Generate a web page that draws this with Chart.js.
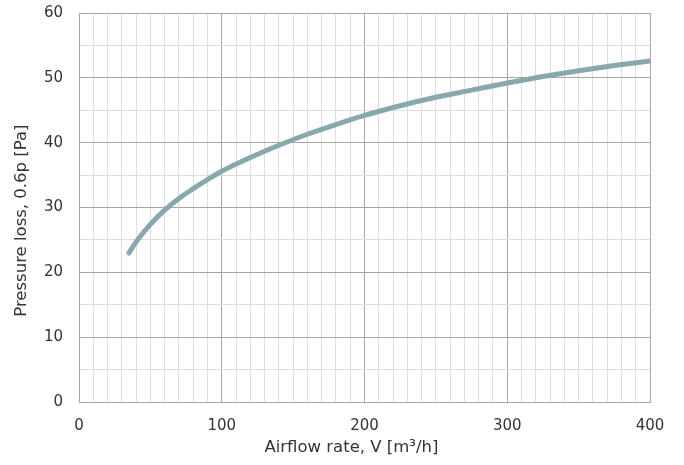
<!DOCTYPE html>
<html>
<head>
<meta charset="utf-8">
<script src="https://cdn.jsdelivr.net/npm/chart.js@4/dist/chart.umd.min.js"></script>
<style>
  html, body { margin: 0; padding: 0; background: #fff; }
  #wrap { width: 684px; height: 465px; }
</style>
</head>
<body>
<div id="wrap"><canvas id="chart" width="684" height="465"></canvas></div>
<script>
// Airflow rate V [m3/h] vs pressure loss [Pa]
const airflow = [35, 40, 50, 60, 70, 80, 90, 100, 120, 140, 160, 180, 200, 225, 250, 275, 300, 325, 350, 375, 400];
const pressure = [23.0, 24.7, 27.4, 29.6, 31.4, 32.9, 34.3, 35.6, 37.7, 39.6, 41.3, 42.8, 44.2, 45.7, 47.0, 48.1, 49.2, 50.2, 51.1, 51.9, 52.6];

const xTitle = 'Airflow rate, V [m³/h]';
const yTitle = 'Pressure loss, 0.6p [Pa]';
const xMajor = 100, yMajor = 10;

Chart.defaults.font.family = "'DejaVu Sans', Verdana, sans-serif";
Chart.defaults.font.size = 15;
Chart.defaults.color = '#333';

const points = airflow.map((v, i) => ({ x: v, y: pressure[i] }));

const gridColor = major => ctx => (ctx.tick && ctx.tick.value % major === 0) ? '#a6a6a6' : '#dedede';

// titles in the original sit a little towards the origin, trailing spaces nudge them
const nudge = '     ';

new Chart(document.getElementById('chart'), {
    type: 'scatter',
    data: {
        datasets: [{
            data: points,
            showLine: true,
            borderColor: '#87a8ac',
            borderWidth: 5,
            borderCapStyle: 'round',
            pointRadius: 0,
            cubicInterpolationMode: 'monotone',
            fill: false
        }]
    },
    options: {
        responsive: false,
        animation: false,
        devicePixelRatio: 1,
        layout: { padding: { top: 13, right: 34, left: 0, bottom: 0 } },
        plugins: { legend: { display: false }, tooltip: { enabled: false } },
        scales: {
            x: {
                type: 'linear',
                min: 0, max: 400,
                ticks: {
                    stepSize: 10,
                    padding: 15,
                    maxRotation: 0,
                    autoSkip: false,
                    callback: v => v % xMajor === 0 ? v : ''
                },
                grid: { color: gridColor(xMajor), drawTicks: false, lineWidth: 1 },
                border: { color: '#a6a6a6' },
                title: { display: true, text: xTitle + nudge, font: { size: 16.5 }, padding: { top: 2, bottom: 7 } },
                afterFit: s => { s.height = 63; s.paddingLeft = 0; s.paddingRight = 0; }
            },
            y: {
                min: 0, max: 60,
                ticks: {
                    stepSize: 5,
                    padding: 16,
                    autoSkip: false,
                    callback: v => v % yMajor === 0 ? v : ''
                },
                grid: { color: gridColor(yMajor), drawTicks: false, lineWidth: 1 },
                border: { color: '#a6a6a6' },
                title: { display: true, text: yTitle + nudge, font: { size: 16.5 }, padding: { top: 12, bottom: 2 } },
                afterFit: s => { s.width = 79; s.paddingTop = 0; s.paddingBottom = 0; }
            }
        }
    }
});
</script>
</body>
</html>
